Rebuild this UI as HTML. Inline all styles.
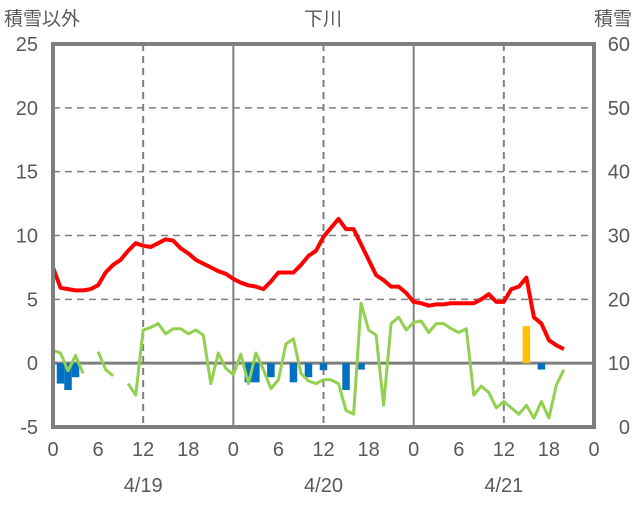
<!DOCTYPE html>
<html><head><meta charset="utf-8"><style>
html,body{margin:0;padding:0;background:#fff;}
svg text{font-family:"Liberation Sans","Noto Sans CJK JP",sans-serif;fill:#595959;}
</style></head><body>
<svg id="chart" width="636" height="501" xmlns="http://www.w3.org/2000/svg">
<text x="4" y="25" font-size="19">積雪以外</text>
<text x="323" y="25" font-size="19" text-anchor="middle">下川</text>
<text x="632" y="25" font-size="19" text-anchor="end">積雪</text>
<g id="grid"></g>
<g id="marks"></g>
<g id="axes"></g>
</svg>
<script>
const hours=[0,1,2,3,4,5,6,7,8,9,10,11,12,13,14,15,16,17,18,19,20,21,22,23,24,25,26,27,28,29,30,31,32,33,34,35,36,37,38,39,40,41,42,43,44,45,46,47,48,49,50,51,52,53,54,55,56,57,58,59,60,61,62,63,64,65,66,67,68];
const tempValues=[7.5,5.9,5.8,5.7,5.7,5.8,6.1,7.1,7.7,8.1,8.8,9.4,9.2,9.1,9.4,9.7,9.6,9.0,8.6,8.1,7.8,7.5,7.2,7.0,6.6,6.3,6.1,6.0,5.8,6.4,7.1,7.1,7.1,7.7,8.4,8.8,9.9,10.6,11.3,10.5,10.5,9.3,8.1,6.9,6.5,6.0,6.0,5.5,4.8,4.7,4.5,4.6,4.6,4.7,4.7,4.7,4.7,5.0,5.4,4.8,4.8,5.8,6.0,6.7,3.6,3.1,1.8,1.4,1.1];
const greenValues=[1.0,0.8,-0.6,0.6,-0.8,null,0.9,-0.5,-1.0,null,-1.6,-2.5,2.6,2.8,3.1,2.3,2.7,2.7,2.3,2.6,2.2,-1.6,0.8,-0.4,-0.9,0.7,-1.6,0.8,-0.5,-2.0,-1.3,1.5,1.9,-0.8,-1.4,-1.6,-1.3,-1.3,-1.6,-3.7,-4.0,4.7,2.6,2.2,-3.3,3.1,3.6,2.6,3.2,3.3,2.4,3.1,3.1,2.7,2.4,2.7,-2.5,-1.8,-2.3,-3.5,-3.0,-3.5,-4.0,-3.3,-4.3,-3.0,-4.3,-1.7,-0.5];
const blueHours=[1,2,3,26,27,29,32,34,36,39,41,65];
const blueValues=[-1.6,-2.1,-1.1,-1.5,-1.5,-1.1,-1.5,-1.1,-0.55,-2.1,-0.5,-0.5];
const orangeHours=[63];
const orangeValues=[2.9];
const snowValues=hours.map(()=>0);
const leftTicks=[25,20,15,10,5,0,-5];
const rightTicks=[60,50,40,30,20,10,0];
const xTickLabels=["0","6","12","18","0","6","12","18","0","6","12","18","0"];
const dateLabels=["4/19","4/20","4/21"];

const X0=53,X1=594,YT=44,YB=427;
const x=h=>X0+(X1-X0)*h/72;
const yL=v=>YB-(v+5)/30*(YB-YT);
const yR=v=>YB-v/60*(YB-YT);
const NS="http://www.w3.org/2000/svg";
function mk(tag,attrs,parent){const e=document.createElementNS(NS,tag);for(const k in attrs)e.setAttribute(k,attrs[k]);parent.appendChild(e);return e;}
const grid=document.getElementById('grid'),marks=document.getElementById('marks'),axes=document.getElementById('axes');

leftTicks.forEach((t,i)=>{
  if(t>-5&&t<25&&t!==0){const l=mk('line',{x1:X0,x2:X1,y1:yL(t),y2:yL(t),stroke:'#7f7f7f','stroke-width':1.5,'stroke-dasharray':'7,5'},grid);
  
  }
  const tx=mk('text',{x:38,y:yL(t)+7,'font-size':20,'text-anchor':'end'},axes);tx.textContent=t;
  
  
  const rx=mk('text',{x:630,y:yR(rightTicks[i])+7,'font-size':20,'text-anchor':'end'},axes);rx.textContent=rightTicks[i];
  
  
});
xTickLabels.forEach((s,i)=>{
  const h=i*6;
  if(h%12===0&&h>0&&h<72){const solid=h%24===0;
    const l=mk('line',{x1:x(h),x2:x(h),y1:YT,y2:YB,stroke:'#7f7f7f','stroke-width':2,'stroke-dasharray':solid?'':'7,5'},grid);
    
    }
  const t=mk('text',{x:x(h),y:456,'font-size':20,'text-anchor':'middle'},axes);t.textContent=s;
  
  
});
dateLabels.forEach((s,i)=>{
  const t=mk('text',{x:x(12+24*i),y:492,'font-size':20,'text-anchor':'middle'},axes);t.textContent=s;
  
  
});
const zl=mk('line',{x1:X0,x2:X1,y1:yL(0),y2:yL(0),stroke:'#7f7f7f','stroke-width':3},grid);



const bw=(X1-X0)/72;
blueHours.forEach((h,i)=>{
  const v=blueValues[i];
  const r=mk('rect',{x:x(h)-bw/2,y:yL(0),width:bw,height:yL(v)-yL(0),fill:'#0070c0'},marks);
  
  
});
orangeHours.forEach((h,i)=>{
  const v=orangeValues[i];
  const r=mk('rect',{x:x(h)-bw/2,y:yL(v),width:bw,height:yL(0)-yL(v),fill:'#ffc000'},marks);
  
  
});
function line(vals,yf,color,w,name){
  let d='',pen=false;
  vals.forEach((v,i)=>{if(v===null){pen=false;return;}d+=(pen?'L':'M')+x(hours[i]).toFixed(1)+','+yf(v).toFixed(1);pen=true;});
  const p=mk('path',{d:d,fill:'none',stroke:color,'stroke-width':w,'stroke-linejoin':'round'},marks);
  
  
}
line(greenValues,yL,'#92d050',3,'green-series-line');
line(tempValues,yL,'#ff0000',4,'temperature-line');
line(snowValues,yR,'#7030a0',3,'snow-depth-line');

const fr=mk('rect',{x:X0,y:YT,width:X1-X0,height:YB-YT,fill:'none',stroke:'#7f7f7f','stroke-width':4},axes);


</script>
</body></html>
